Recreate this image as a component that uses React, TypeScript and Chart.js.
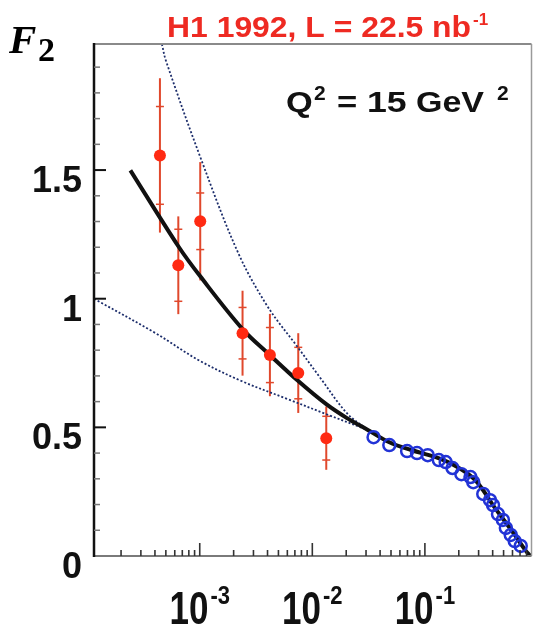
import React, { useEffect, useRef } from 'react';
import { Chart, registerables } from 'chart.js';

Chart.register(...registerables);

// H1 1992 data (red, small x)
const redX = [4.43e-4, 6.45e-4, 1.01e-3, 2.4e-3, 4.2e-3, 7.5e-3, 1.33e-2];
const redY = [1.557, 1.13, 1.301, 0.866, 0.781, 0.711, 0.458];
const redStatErr = [0.19, 0.14, 0.11, 0.1, 0.107, 0.1, 0.085];
const redTotErr = [0.3, 0.19, 0.23, 0.165, 0.16, 0.155, 0.123];

// fixed-target data (blue open circles)
const blueX = [0.035, 0.0483, 0.0695, 0.0851, 0.106, 0.133, 0.153, 0.176, 0.211, 0.254, 0.269, 0.33, 0.379, 0.403, 0.446, 0.493, 0.524, 0.579, 0.628, 0.71];
const blueY = [0.462, 0.431, 0.408, 0.4, 0.392, 0.373, 0.365, 0.342, 0.318, 0.307, 0.287, 0.241, 0.217, 0.198, 0.163, 0.14, 0.109, 0.082, 0.058, 0.039];

// solid fit curve
const fitX = [2.42e-4, 6.45e-4, 1.01e-3, 2.4e-3, 4.2e-3, 7.5e-3, 1.33e-2, 0.0203, 0.0314, 0.0483, 0.0754, 0.1247, 0.187, 0.28, 0.42, 0.535, 0.628, 0.801, 0.87];
const fitY = [1.499, 1.204, 1.087, 0.882, 0.781, 0.68, 0.59, 0.536, 0.489, 0.442, 0.412, 0.384, 0.35, 0.295, 0.186, 0.124, 0.082, 0.016, 0.0];

// dotted extrapolations
const upperDotX = [4.61e-4, 5.0e-4, 1.01e-3, 2.2e-3, 4.03e-3, 7.38e-3, 0.01183, 0.0203, 0.0314];
const upperDotY = [1.99, 1.926, 1.551, 1.177, 0.968, 0.813, 0.691, 0.555, 0.489];
const lowerDotX = [1.15e-4, 4.09e-4, 9.8e-4, 2.35e-3, 6.04e-3, 0.01355, 0.0314];
const lowerDotY = [1.0, 0.865, 0.761, 0.68, 0.61, 0.55, 0.489];

// axes
const xMin = 1.15e-4;
const xMax = 0.885;
const yMin = 0;
const yMax = 1.99;
const yMajorTicks = [0, 0.5, 1, 1.5];
const yTickLabels = ['0', '0.5', '1', '1.5'];
const yMinorTicks = [0.1, 0.2, 0.3, 0.4, 0.6, 0.7, 0.8, 0.9, 1.1, 1.2, 1.3, 1.4, 1.6, 1.7, 1.8, 1.9];
const xDecadeTicks = [1e-3, 1e-2, 1e-1];
const xDecadeBase = ['10', '10', '10'];
const xDecadeExp = ['-3', '-2', '-1'];
const xMinorTicks = [
  2e-4, 3e-4, 4e-4, 5e-4, 6e-4, 7e-4, 8e-4, 9e-4,
  2e-3, 3e-3, 4e-3, 5e-3, 6e-3, 7e-3, 8e-3, 9e-3,
  2e-2, 3e-2, 4e-2, 5e-2, 6e-2, 7e-2, 8e-2, 9e-2,
  2e-1, 3e-1, 4e-1, 5e-1, 6e-1, 7e-1, 8e-1,
];

const titleMain = 'H1 1992, L = 22.5 nb';
const titleSup = '-1';
const yAxisTitle = 'F';
const yAxisSub = '2';

const SANS = '"Liberation Sans", Arial, sans-serif';
const SERIF = '"Liberation Serif", "Times New Roman", serif';

function txt(ctx: CanvasRenderingContext2D, s: string, x: number, y: number, font: string, color: string, align: CanvasTextAlign = 'left', sx = 1, sy = 1) {
  ctx.save();
  ctx.translate(x, y);
  ctx.scale(sx, sy);
  ctx.font = font;
  ctx.fillStyle = color;
  ctx.textAlign = align;
  ctx.textBaseline = 'alphabetic';
  ctx.fillText(s, 0, 0);
  ctx.restore();
}

const decorPlugin = {
  id: 'decor',
  beforeDatasetsDraw(chart: any) {
    const ctx: CanvasRenderingContext2D = chart.ctx;
    const xs = chart.scales.x;
    const ys = chart.scales.y;
    ctx.save();
    ctx.strokeStyle = '#e0482c';
    for (let i = 0; i < redX.length; i++) {
      const px = xs.getPixelForValue(redX[i]);
      const yt = ys.getPixelForValue(redY[i] + redTotErr[i]);
      const yb = ys.getPixelForValue(redY[i] - redTotErr[i]);
      ctx.lineWidth = 2;
      ctx.beginPath();
      ctx.moveTo(px, yt);
      ctx.lineTo(px, yb);
      ctx.stroke();
      ctx.lineWidth = 1.5;
      for (const s of [1, -1]) {
        const yy = ys.getPixelForValue(redY[i] + s * redStatErr[i]);
        ctx.beginPath();
        ctx.moveTo(px - 4, yy);
        ctx.lineTo(px + 4, yy);
        ctx.stroke();
      }
    }
    ctx.restore();
  },
  afterDatasetsDraw(chart: any) {
    const ctx: CanvasRenderingContext2D = chart.ctx;
    const xs = chart.scales.x;
    const ys = chart.scales.y;
    const a = chart.chartArea;
    ctx.save();
    ctx.lineCap = 'butt';
    // frame
    ctx.strokeStyle = '#8a8a8a';
    ctx.lineWidth = 2;
    ctx.beginPath();
    ctx.moveTo(a.left, a.top);
    ctx.lineTo(a.right, a.top);
    ctx.stroke();
    ctx.strokeStyle = '#9a9a9a';
    ctx.lineWidth = 1.5;
    ctx.beginPath();
    ctx.moveTo(a.right, a.top);
    ctx.lineTo(a.right, a.bottom);
    ctx.stroke();
    ctx.strokeStyle = '#7a7a7a';
    ctx.lineWidth = 2;
    ctx.beginPath();
    ctx.moveTo(a.left, a.bottom);
    ctx.lineTo(a.right, a.bottom);
    ctx.stroke();
    ctx.strokeStyle = '#111';
    ctx.lineWidth = 2.5;
    ctx.beginPath();
    ctx.moveTo(a.left, a.top - 1);
    ctx.lineTo(a.left, a.bottom + 1);
    ctx.stroke();

    // y ticks (inward)
    for (const v of yMinorTicks) {
      const py = ys.getPixelForValue(v);
      ctx.strokeStyle = '#777';
      ctx.lineWidth = 1.5;
      ctx.beginPath();
      ctx.moveTo(a.left, py);
      ctx.lineTo(a.left + 6, py);
      ctx.stroke();
    }
    yMajorTicks.forEach((v, i) => {
      const py = ys.getPixelForValue(v);
      if (v > yMin) {
        ctx.strokeStyle = '#111';
        ctx.lineWidth = 2;
        ctx.beginPath();
        ctx.moveTo(a.left, py);
        ctx.lineTo(a.left + 12, py);
        ctx.stroke();
      }
      txt(ctx, yTickLabels[i], 82, py + 22, `bold 36px ${SANS}`, '#111', 'right');
    });

    // x ticks (inward)
    for (const v of xMinorTicks) {
      const px = xs.getPixelForValue(v);
      ctx.strokeStyle = '#333';
      ctx.lineWidth = 1.6;
      ctx.beginPath();
      ctx.moveTo(px, a.bottom);
      ctx.lineTo(px, a.bottom - 6);
      ctx.stroke();
    }
    xDecadeTicks.forEach((v, i) => {
      const px = xs.getPixelForValue(v);
      ctx.strokeStyle = '#333';
      ctx.lineWidth = 1.6;
      ctx.beginPath();
      ctx.moveTo(px, a.bottom);
      ctx.lineTo(px, a.bottom - 13);
      ctx.stroke();
      ctx.font = `bold 35px ${SANS}`;
      const wb = ctx.measureText(xDecadeBase[i]).width;
      ctx.font = `bold 22px ${SANS}`;
      const we = ctx.measureText(xDecadeExp[i]).width;
      const left = px - (wb + 2 + we) / 2;
      txt(ctx, xDecadeBase[i], left, 624, `bold 35px ${SANS}`, '#111', 'left', 1, 1.3);
      txt(ctx, xDecadeExp[i], left + wb + 2, 604, `bold 22px ${SANS}`, '#111', 'left', 1, 1.2);
    });

    // title
    txt(ctx, titleMain, 167, 37, `bold 29px ${SANS}`, '#ee2a22', 'left', 1.1, 1);
    txt(ctx, titleSup, 473, 25, `bold 17px ${SANS}`, '#ee2a22', 'left');

    // y axis title F2
    txt(ctx, yAxisTitle, 9, 53, `italic bold 41px ${SERIF}`, '#000', 'left');
    txt(ctx, yAxisSub, 38, 61, `bold 34px ${SERIF}`, '#000', 'left');

    // Q^2 label
    const qf = `bold 33px ${SANS}`;
    txt(ctx, 'Q', 286, 112, qf, '#111', 'left', 1.04, 0.88);
    txt(ctx, '2', 314, 100, `bold 21px ${SANS}`, '#111', 'left');
    txt(ctx, '=', 337, 112, qf, '#111', 'left', 1.05, 0.88);
    txt(ctx, '15', 367, 112, qf, '#111', 'left', 1.08, 0.88);
    txt(ctx, 'GeV', 416, 112, qf, '#111', 'left', 1.03, 0.88);
    txt(ctx, '2', 497, 100, `bold 21px ${SANS}`, '#111', 'left');
    ctx.restore();
  },
};

export default function App() {
  const ref = useRef<HTMLCanvasElement | null>(null);
  useEffect(() => {
    if (!ref.current) return;
    const pts = (xs: number[], ys: number[]) => xs.map((x, i) => ({ x, y: ys[i] }));
    const chart = new Chart(ref.current, {
      type: 'scatter',
      data: {
        datasets: [
          {
            label: 'H1 1992',
            data: pts(redX, redY),
            showLine: false,
            pointStyle: 'circle',
            pointRadius: 6,
            backgroundColor: '#ff2a12',
            borderColor: '#ff2a12',
            borderWidth: 0,
            order: 0,
          },
          {
            label: 'fixed target',
            data: pts(blueX, blueY),
            showLine: false,
            pointStyle: 'circle',
            pointRadius: 6,
            backgroundColor: 'rgba(0,0,0,0)',
            borderColor: '#2233d6',
            borderWidth: 2.5,
            order: 1,
          },
          {
            label: 'fit',
            data: pts(fitX, fitY),
            showLine: true,
            pointRadius: 0,
            borderColor: '#111',
            borderWidth: 4,
            tension: 0.35,
            order: 2,
          },
          {
            label: 'upper',
            data: pts(upperDotX, upperDotY),
            showLine: true,
            pointRadius: 0,
            borderColor: '#1c2d6b',
            borderWidth: 1.8,
            borderDash: [2, 2],
            tension: 0.35,
            order: 3,
          },
          {
            label: 'lower',
            data: pts(lowerDotX, lowerDotY),
            showLine: true,
            pointRadius: 0,
            borderColor: '#1c2d6b',
            borderWidth: 1.8,
            borderDash: [2, 2],
            tension: 0.35,
            order: 4,
          },
        ],
      },
      options: {
        animation: false,
        responsive: false,
        maintainAspectRatio: false,
        events: [],
        layout: { padding: { left: 94, top: 44, right: 3, bottom: 73 } },
        plugins: {
          legend: { display: false },
          tooltip: { enabled: false },
          title: { display: false },
        },
        scales: {
          x: { type: 'logarithmic', min: xMin, max: xMax, display: false },
          y: { type: 'linear', min: yMin, max: yMax, display: false },
        },
      },
      plugins: [decorPlugin],
    } as any);
    return () => chart.destroy();
  }, []);
  return (
    <div style={{ position: 'absolute', left: 0, top: 0, width: 540, height: 629, background: '#fff' }}>
      <canvas ref={ref} width={540} height={629} style={{ display: 'block' }} />
    </div>
  );
}
